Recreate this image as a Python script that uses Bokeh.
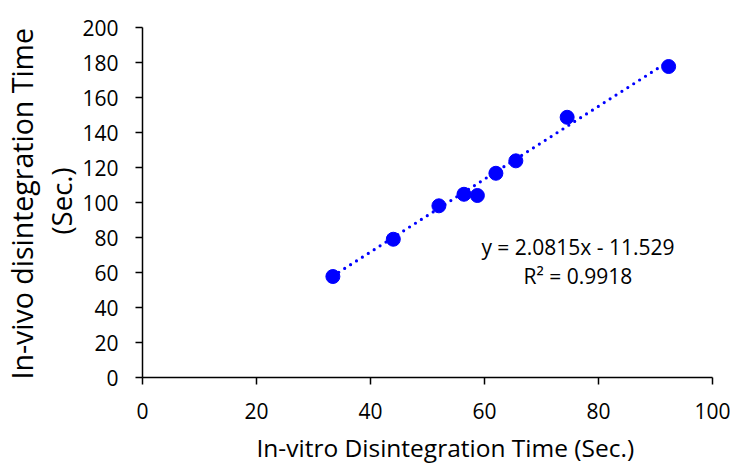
from bokeh.plotting import figure
from bokeh.models import Range1d, FixedTicker, Label, Title
from bokeh.embed import file_html
from bokeh.resources import INLINE

in_vitro = [33.4, 44.0, 52.0, 56.4, 58.75, 62.0, 65.5, 74.5, 92.3]
in_vivo = [57.7, 79.0, 98.1, 104.7, 104.0, 116.7, 123.8, 148.7, 177.7]
slope = 2.0815
intercept = -11.529
eq_text = "y = 2.0815x - 11.529"
r2_text = "R\u00b2 = 0.9918"
x_title = "In-vitro Disintegration Time (Sec.)"
y_title_1 = "In-vivo disintegration Time"
y_title_2 = "(Sec.)"
x_ticks = [0, 20, 40, 60, 80, 100]
y_ticks = [0, 20, 40, 60, 80, 100, 120, 140, 160, 180, 200]

FONT = "Open Sans"

p = figure(output_backend="svg", toolbar_location=None,
           frame_width=570, frame_height=350,
           min_border_left=141, min_border_right=18,
           min_border_top=27, min_border_bottom=91,
           x_range=Range1d(0, 100), y_range=Range1d(0, 200))
p.outline_line_color = None
p.grid.visible = False
p.background_fill_color = "white"
p.border_fill_color = "white"

for ax in (p.xaxis[0], p.yaxis[0]):
    ax.axis_line_color = "black"
    ax.axis_line_width = 1.5
    ax.major_tick_line_color = "black"
    ax.major_tick_line_width = 1.5
    ax.major_tick_in = 0
    ax.major_tick_out = 7
    ax.minor_tick_line_color = None
    ax.major_label_text_font = FONT
    ax.major_label_text_font_size = "21px"
    ax.major_label_text_color = "black"

p.xaxis.ticker = FixedTicker(ticks=x_ticks)
p.yaxis.ticker = FixedTicker(ticks=y_ticks)
p.xaxis.major_label_standoff = 18
p.yaxis.major_label_standoff = 17

x0, x1 = min(in_vitro), max(in_vitro)
p.line([x0, x1], [slope * x0 + intercept, slope * x1 + intercept],
       line_color="#0000FF", line_width=3.2, line_dash="0 7", line_cap="round")
p.scatter(in_vitro, in_vivo, size=14, color="#0000FF")

p.add_layout(Label(x=76.4, y=74.7, text=eq_text, text_align="center", text_baseline="middle",
                   text_font=FONT, text_font_size="21px", text_color="black"))
p.add_layout(Label(x=76.4, y=58.1, text=r2_text, text_align="center", text_baseline="middle",
                   text_font=FONT, text_font_size="21px", text_color="black"))

p.add_layout(Title(text=x_title, align="left", offset=114, standoff=15,
                   text_font=FONT, text_font_size="24.5px", text_font_style="normal",
                   text_color="black"), "below")
p.add_layout(Title(text=y_title_2, align="left", offset=143, standoff=0,
                   text_font=FONT, text_font_size="27.5px", text_font_style="normal",
                   text_color="black"), "left")
p.add_layout(Title(text=y_title_1, align="left", offset=-2, standoff=0,
                   text_font=FONT, text_font_size="28.5px", text_font_style="normal",
                   text_color="black"), "left")

open("out.html", "w").write(file_html(p, INLINE))
